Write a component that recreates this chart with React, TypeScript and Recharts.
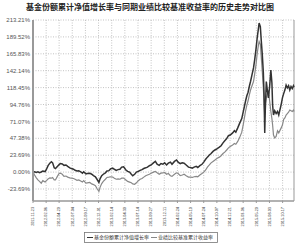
import { LineChart, Line, XAxis, YAxis, CartesianGrid, Legend, ReferenceLine } from "recharts";

const TITLE = "基金份额累计净值增长率与同期业绩比较基准收益率的历史走势对比图";
const FUND_NAME = "基金份额累计净值增长率";
const BENCH_NAME = "业绩比较基准累计收益率";

const DATES = [
  "2011-11-23", "2011-12-02", "2011-12-12", "2011-12-21", "2011-12-30", "2012-01-09", "2012-01-18", "2012-01-31",
  "2012-02-08", "2012-02-17", "2012-02-27", "2012-03-07", "2012-03-14", "2012-03-23", "2012-03-30", "2012-04-10",
  "2012-04-20", "2012-04-27", "2012-05-08", "2012-05-18", "2012-05-29", "2012-06-08", "2012-06-20", "2012-06-29",
  "2012-07-11", "2012-07-20", "2012-07-31", "2012-08-10", "2012-08-21", "2012-08-31", "2012-09-07", "2012-09-20",
  "2012-09-28", "2012-10-12", "2012-10-23", "2012-11-02", "2012-11-13", "2012-11-22", "2012-12-03", "2012-12-10",
  "2012-12-19", "2012-12-28", "2013-01-09", "2013-01-18", "2013-01-29", "2013-02-07", "2013-02-20", "2013-03-01",
  "2013-03-12", "2013-03-22", "2013-04-02", "2013-04-12", "2013-04-23", "2013-05-06", "2013-05-16", "2013-05-27",
  "2013-06-06", "2013-06-14", "2013-06-25", "2013-07-05", "2013-07-16", "2013-07-26", "2013-08-06", "2013-08-16",
  "2013-08-27", "2013-09-06", "2013-09-17", "2013-09-27", "2013-10-10", "2013-10-21", "2013-10-31", "2013-11-12",
  "2013-11-22", "2013-12-03", "2013-12-13", "2013-12-24", "2014-01-03", "2014-01-15", "2014-01-24", "2014-02-07",
  "2014-02-19", "2014-02-28", "2014-03-12", "2014-03-24", "2014-04-03", "2014-04-15", "2014-04-28", "2014-05-09",
  "2014-05-20", "2014-05-30", "2014-06-11", "2014-06-20", "2014-07-02", "2014-07-14", "2014-07-24", "2014-08-04",
  "2014-08-14", "2014-08-25", "2014-09-04", "2014-09-15", "2014-09-26", "2014-10-09", "2014-10-21", "2014-10-31",
  "2014-11-11", "2014-11-21", "2014-12-02", "2014-12-12", "2014-12-22", "2015-01-05", "2015-01-15", "2015-01-23",
  "2015-02-03", "2015-02-13", "2015-02-26", "2015-03-06", "2015-03-13", "2015-03-20", "2015-03-27", "2015-04-03",
  "2015-04-10", "2015-04-17", "2015-04-24", "2015-05-04", "2015-05-11", "2015-05-18", "2015-05-25", "2015-06-01",
  "2015-06-05", "2015-06-12", "2015-06-17", "2015-06-23", "2015-06-29", "2015-07-03", "2015-07-07", "2015-07-10",
  "2015-07-16", "2015-07-22", "2015-07-28", "2015-08-04", "2015-08-11", "2015-08-17", "2015-08-21", "2015-08-26",
  "2015-09-02", "2015-09-10", "2015-09-18", "2015-09-25", "2015-10-09", "2015-10-16", "2015-10-23", "2015-10-30",
  "2015-11-06", "2015-11-13", "2015-11-20", "2015-11-27", "2015-12-04", "2015-12-11", "2015-12-18", "2015-12-21",
];

const FUND = [
  0, 0.5, -0.5, 0.3, -0.8, 0.2, 1.5, 0.8,
  4, 9, 12.5, 14.5, 13, 6, 5, 8,
  10.5, 12, 11.5, 9.5, 10, 8, 6, 5,
  4, 2.5, 1.5, 2, 0.5, -1.5, 0.5, -2.5,
  -2, -1.5, -3, -5, -6.5, -10, -14.5, -9,
  -5, -3, -1, 1.5, 2, 4.5, 5.5, 4,
  2.5, 3.5, 4, 7, 7.5, 3, 1, 0,
  -3, -5, -3, 0, 1, 2.5, 3.5, 5,
  6, 7, 9, 10, 13, 15, 11, 9.5,
  12, 11, 13, 10, 12.5, 14, 11, 15,
  17, 14, 12, 13, 12.5, 10, 7, 6.5,
  5.5, 7, 8, 6.5, 9, 11, 14, 18,
  21, 24, 26, 29, 31, 33, 35, 37,
  41, 44, 47, 51, 52, 55, 58, 56,
  62, 68, 75, 84, 92, 100, 107, 112,
  120, 127, 135, 146, 158, 172, 188, 201,
  209, 204, 185, 165, 140, 110, 55, 85,
  127, 115, 104, 120, 143, 125, 94, 80,
  86, 82, 85, 80, 95, 104, 110, 115,
  122, 118, 121, 115, 120, 117, 121, 119,
];

const BENCH = [
  0, -4, -8, -11, -13, -15.5, -12, -14,
  -12, -9.5, -8, -8.5, -7.5, -11, -11, -6,
  -2, -1.4, -3, -6, -5.5, -7, -8, -8.4,
  -9, -10, -11.5, -11, -12.5, -14, -12, -15.5,
  -15, -14.5, -16.5, -17.5, -19, -23, -27, -21,
  -16, -13, -10, -7.5, -7, -6.5, -7, -8.5,
  -10, -9.6, -10, -8.5, -8.4, -11, -13, -14,
  -15, -16.5, -17, -15, -12, -10, -9, -7,
  -5, -4, -3, -1.5, 0, 1, -1, -3,
  -1.5, -1.2, -0.5, -3, -2, -5, -6, -3,
  -1, -2, -5, -4, -3, -5, -7, -7,
  -7.5, -6.5, -6, -6.5, -4, -2, 0, 3,
  7, 10, 13, 15, 17, 19.5, 21, 23,
  26, 28, 31, 34, 36, 38, 40, 39,
  43, 48, 56, 66, 76, 86, 94, 100,
  108, 115, 120, 127, 138, 150, 166, 178,
  183, 179, 162, 141, 118, 99, 80, 95,
  104, 110, 113, 100, 85, 75, 66, 52,
  48, 50, 58, 55, 62, 66, 74, 76,
  80, 82, 84, 87, 86, 85, 87, 85,
];

const X_TICK_LABELS = [
  "2011-11-23", "2012-02-06", "2012-04-20", "2012-07-04", "2012-09-17", "2012-12-01", "2013-02-14",
  "2013-04-30", "2013-07-14", "2013-09-27", "2013-12-11", "2014-02-24", "2014-05-10", "2014-07-24",
  "2014-10-07", "2014-12-21", "2015-03-06", "2015-05-20", "2015-08-03", "2015-10-17",
];

const Y_TICKS = [-23.69, 0, 23.69, 47.38, 71.07, 94.76, 118.45, 142.14, 165.83, 189.52, 213.21];

const toTime = (s: string) => {
  const [y, m, d] = s.split("-").map(Number);
  return Date.UTC(y, m - 1, d);
};
const T0 = toTime(DATES[0]);
const toDay = (s: string) => Math.round((toTime(s) - T0) / 86400000);

const data = DATES.map((d, i) => ({ day: toDay(d), fund: FUND[i], bench: BENCH[i] }));
const xTicks = X_TICK_LABELS.map(toDay);
const labelByDay: Record<number, string> = {};
X_TICK_LABELS.forEach((l) => (labelByDay[toDay(l)] = l));
const lastDay = data[data.length - 1].day;

const XTick = (props: any) => {
  const { x, y, payload } = props;
  return (
    <text x={x + 1.3} y={y + 2} transform={`rotate(-90 ${x + 1.3} ${y + 2})`} textAnchor="end" fontSize={3.8} fill="#333" fontFamily="Liberation Sans, Arial">
      {labelByDay[payload.value]}
    </text>
  );
};

const LegendBox = () => (
  <svg width={134} height={11}>
    <rect x={0.5} y={0.5} width={133} height={10} fill="#fff" stroke="#777" strokeWidth={0.8} />
    <line x1={3} x2={9} y1={5.5} y2={5.5} stroke="#333" strokeWidth={1} />
    <text x={10} y={7.3} fontSize={5} fill="#333" fontFamily="Noto Sans CJK SC">{FUND_NAME}</text>
    <line x1={67} x2={73} y1={5.5} y2={5.5} stroke="#888" strokeWidth={1} />
    <text x={74} y={7.3} fontSize={5} fill="#333" fontFamily="Noto Sans CJK SC">{BENCH_NAME}</text>
  </svg>
);

export default function App() {
  return (
    <div style={{ position: "absolute", left: 0, top: 0, width: 300, height: 243, background: "#fff" }}>
      <div style={{ position: "absolute", left: 0, top: 2, width: 300, textAlign: "center", fontSize: 8, fontWeight: 700, color: "#222", fontFamily: "Noto Sans CJK SC", lineHeight: "10px" }}>
        {TITLE}
      </div>
      <LineChart width={300} height={243} data={data} margin={{ top: 20, right: 6, bottom: 2, left: 0 }}>
        <CartesianGrid stroke="#aaa" strokeDasharray="1 1.5" strokeWidth={0.7} horizontalValues={Y_TICKS} verticalValues={xTicks} />
        <XAxis
          dataKey="day"
          type="number"
          domain={[0, lastDay]}
          ticks={xTicks}
          interval={0}
          height={29}
          tick={<XTick />}
          tickSize={2}
          tickLine={{ stroke: "#999" }}
          axisLine={{ stroke: "#999", strokeWidth: 1.5 }}
        />
        <YAxis
          type="number"
          domain={[-40.5, 213.21]}
          ticks={Y_TICKS}
          interval={0}
          width={33}
          tickSize={0}
          tickMargin={3}
          tickFormatter={(v: number) => `${v.toFixed(2)}%`}
          tick={{ fontSize: 6, fill: "#555", fontFamily: "Liberation Sans, Arial" }}
          axisLine={{ stroke: "#999", strokeWidth: 2 }}
        />
        <ReferenceLine x={lastDay} stroke="#999" strokeWidth={1} />
        <Line dataKey="bench" stroke="#888" strokeWidth={1.2} dot={false} isAnimationActive={false} />
        <Line dataKey="fund" stroke="#333" strokeWidth={1.5} dot={false} isAnimationActive={false} />
        <Legend content={<LegendBox />} wrapperStyle={{ position: "absolute", left: 84, top: 229, width: 134, height: 11 }} />
      </LineChart>
    </div>
  );
}
